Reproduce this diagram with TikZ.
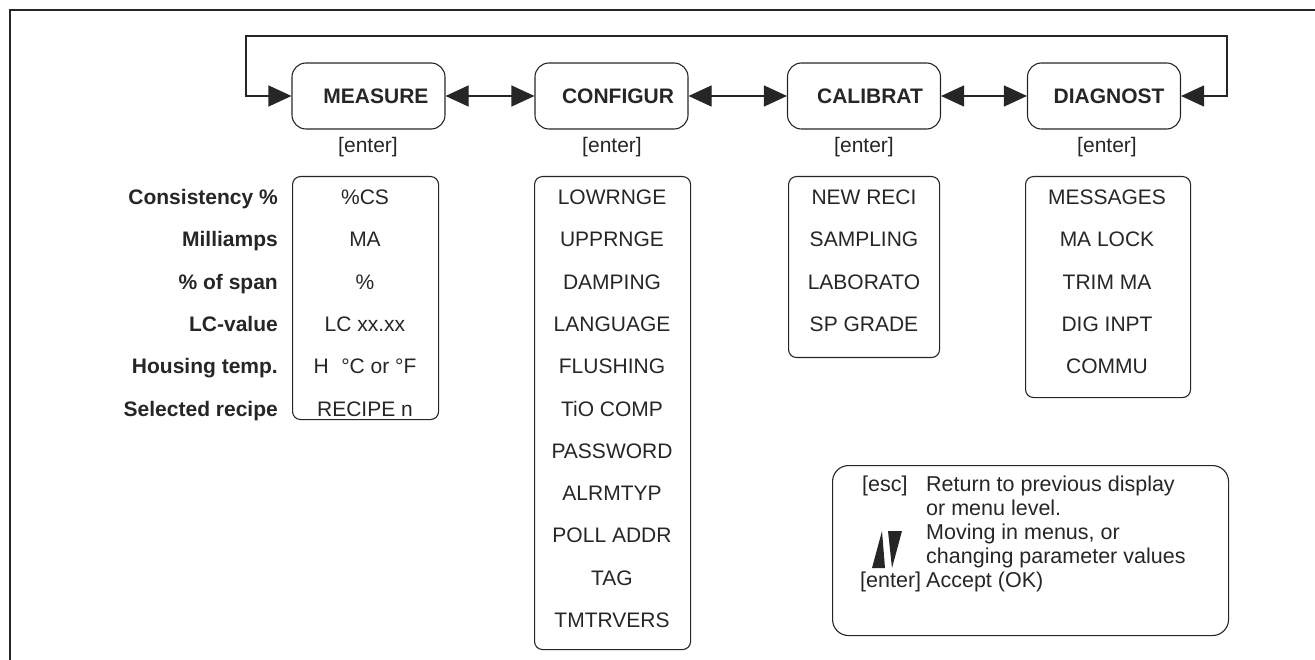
\documentclass[tikz,border=0pt]{standalone}
\usepackage{fontspec}
\setmainfont{Liberation Sans}
\usetikzlibrary{arrows.meta}
\begin{document}
\begin{tikzpicture}[x=1pt,y=-1pt,
  every node/.style={font=\fontsize{21}{24}\selectfont, inner sep=0pt, text=black!85},
  menubox/.style={draw=black!85, line width=1.1pt, rounded corners=14pt, minimum width=153pt, minimum height=66pt},
  menutext/.style={font=\fontsize{21}{24}\selectfont\bfseries},
  listbox/.style={draw=black!85, line width=1.1pt, rounded corners=8pt, anchor=north west},
  item/.style={anchor=base},
  lab/.style={anchor=base east, font=\fontsize{21}{24}\selectfont\bfseries},
  leg/.style={anchor=base west, font=\fontsize{21.5}{24}\selectfont},
  conn/.style={line width=1.1pt, draw=black!85},
  bigtip/.tip={Triangle[length=23pt, width=21pt]},
]
\useasboundingbox (0,0) rectangle (1315,660);
% frame
\draw[line width=2pt, black!85] (10,660) -- (10,10) -- (1315,10);

% top menu boxes
\node[menubox] (m) at (368.5,96) {};
\node[menubox] (c) at (611.5,96) {};
\node[menubox] (ca) at (864,96) {};
\node[menubox] (d) at (1104,96) {};
\node[menutext] (mt) at (376,96) {MEASURE};
\node[menutext] (ct) at (618,96) {CONFIGUR};
\node[menutext] (cat) at (870,96) {CALIBRAT};
\node[menutext] (dt) at (1109,96) {DIAGNOST};

% connectors
\draw[conn, bigtip-bigtip] (m.east) -- (c.west);
\draw[conn, bigtip-bigtip] (c.east) -- (ca.west);
\draw[conn, bigtip-bigtip] (ca.east) -- (d.west);
\coordinate (lt) at (246,36);
\coordinate (rt) at (1227,36);
\draw[conn, bigtip-bigtip] (m.west) -| (lt) -- (rt) |- (d.east);

% [enter] labels
\node (e1) at (368,147) {[enter]};
\node (e2) at (612,147) {[enter]};
\node (e3) at (864,147) {[enter]};
\node (e4) at (1107,147) {[enter]};

% list boxes
\node[listbox, minimum width=146pt, minimum height=243pt] (ml) at (292,176) {};
\node[listbox, minimum width=156pt, minimum height=473pt] (cl) at (534,176) {};
\node[listbox, minimum width=151pt, minimum height=181pt] (cal) at (788,176) {};
\node[listbox, minimum width=165pt, minimum height=221pt] (dl) at (1025,176) {};

% measure list
\node[item] (m1) at (365,204.5) {\%CS};
\node[item] (m2) at (365,246.8) {MA};
\node[item] (m3) at (365,289.1) {\%};
\node[item] (m4) at (365,331.4) {LC xx.xx};
\node[item] (m5) at (365,373.7) {H\hspace{0.6em}°C or °F};
\node[item] (m6) at (365,416.0) {RECIPE n};

\node[lab] (l1) at (278,204.5) {Consistency \%};
\node[lab] (l2) at (278,246.8) {Milliamps};
\node[lab] (l3) at (278,289.1) {\% of span};
\node[lab] (l4) at (278,331.4) {LC-value};
\node[lab] (l5) at (278,373.7) {Housing temp.};
\node[lab] (l6) at (278,416.0) {Selected recipe};

% configur list
\node[item] (c1) at (612,204.5) {LOWRNGE};
\node[item] (c2) at (612,246.8) {UPPRNGE};
\node[item] (c3) at (612,289.1) {DAMPING};
\node[item] (c4) at (612,331.4) {LANGUAGE};
\node[item] (c5) at (612,373.7) {FLUSHING};
\node[item] (c6) at (612,416.0) {TiO COMP};
\node[item] (c7) at (612,458.3) {PASSWORD};
\node[item] (c8) at (612,500.6) {ALRMTYP};
\node[item] (c9) at (612,542.9) {POLL ADDR};
\node[item] (c10) at (612,585.2) {TAG};
\node[item] (c11) at (612,627.5) {TMTRVERS};

% calibrat list
\node[item] (k1) at (864,204.5) {NEW RECI};
\node[item] (k2) at (864,246.8) {SAMPLING};
\node[item] (k3) at (864,289.1) {LABORATO};
\node[item] (k4) at (864,331.4) {SP GRADE};

% diagnost list
\node[item] (g1) at (1107,204.5) {MESSAGES};
\node[item] (g2) at (1107,246.8) {MA LOCK};
\node[item] (g3) at (1107,289.1) {TRIM MA};
\node[item] (g4) at (1107,331.4) {DIG INPT};
\node[item] (g5) at (1107,373.7) {COMMU};

% legend
\node[draw=black!85, line width=1.1pt, rounded corners=16pt, minimum width=396pt, minimum height=170pt, anchor=north west] (lg) at (832,465) {};
\node[leg] (x1) at (862,491.5) {[esc]};
\node[leg] (x2) at (926,491.5) {Return to previous display};
\node[leg] (x3) at (926,515.5) {or menu level.};
\node[leg] (x4) at (926,539.5) {Moving in menus, or};
\node[leg] (x5) at (926,563.5) {changing parameter values};
\node[leg] (x6) at (860,587.5) {[enter]};
\node[leg] (x7) at (926,587.5) {Accept (OK)};
\fill[black!85] (872,568) -- (882,531) -- (885,568) -- cycle;
\fill[black!85] (888,531) -- (902,531) -- (892,568) -- cycle;
\end{tikzpicture}
\end{document}
